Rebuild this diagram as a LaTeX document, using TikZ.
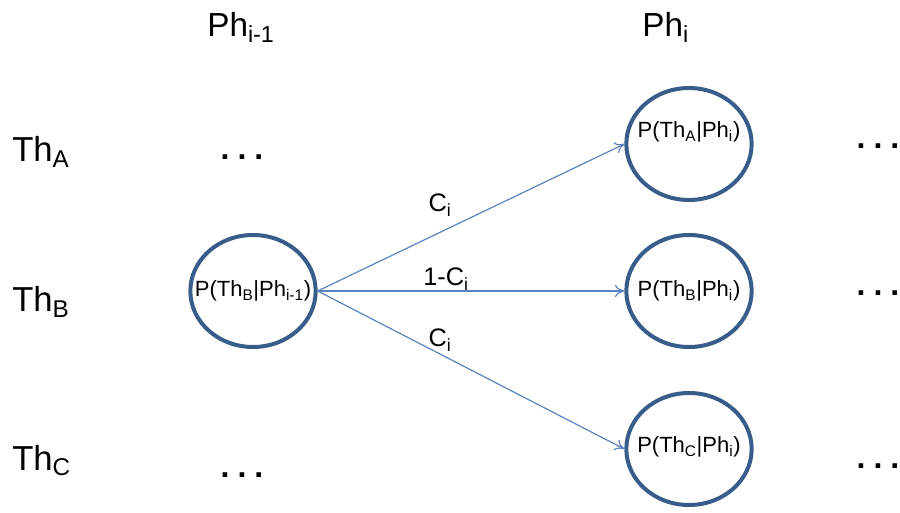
\documentclass[tikz,border=0pt]{standalone}
\usepackage{fontspec}
\setmainfont{Liberation Sans}
\usetikzlibrary{shapes.geometric,arrows.meta}
\definecolor{ringblue}{HTML}{385D8A}
\definecolor{linkblue}{HTML}{5B83BD}
\newcommand\threedots{.\hspace{6pt}.\hspace{6pt}.}
\begin{document}
\begin{tikzpicture}[x=0.75pt,y=-0.75pt,
  state/.style={ellipse,draw=ringblue,line width=3pt,minimum width=94pt,minimum height=84pt,inner sep=0pt},
  ptext/.style={font=\fontsize{16.5pt}{18pt}\selectfont,inner sep=0pt},
  header/.style={font=\fontsize{25pt}{28pt}\selectfont,inner sep=0pt,anchor=base west},
  rowlab/.style={font=\fontsize{26pt}{28pt}\selectfont,inner sep=0pt,anchor=base west},
  weight/.style={font=\fontsize{19pt}{21pt}\selectfont,inner sep=0pt},
  ellip/.style={font=\bfseries\fontsize{24pt}{26pt}\selectfont,inner sep=0pt},
  conn/.style={draw=linkblue,line width=0.9pt,-{To[length=7pt,width=9pt]}}]
\useasboundingbox (0,0) rectangle (900,513);

% column headers
\node[header] (h1) at (207,37) {Ph\textsubscript{i-1}};
\node[header] (h2) at (642,37) {Ph\textsubscript{i}};

% row labels
\node[rowlab] (tA) at (12,162) {Th\textsubscript{A}};
\node[rowlab] (tB) at (12,312) {Th\textsubscript{B}};
\node[rowlab] (tC) at (12,470) {Th\textsubscript{C}};

% states
\node[state] (L) at (253,291) {};
\node[ptext] (Lt) at (253,291) {P(Th\textsubscript{B}|Ph\textsubscript{i-1})};
\node[state] (A) at (689,144) {};
\node[ptext] (At) at (689,132) {P(Th\textsubscript{A}|Ph\textsubscript{i})};
\node[state] (B) at (689,291) {};
\node[ptext] (Bt) at (689,291) {P(Th\textsubscript{B}|Ph\textsubscript{i})};
\node[state] (C) at (689,449) {};
\node[ptext] (Ct) at (689,447) {P(Th\textsubscript{C}|Ph\textsubscript{i})};

% continuation marks
\node[ellip] (dLA) at (242,157) {\threedots};
\node[ellip] (dLC) at (242,475) {\threedots};
\node[ellip] (dRA) at (878,146) {\threedots};
\node[ellip] (dRB) at (878,293) {\threedots};
\node[ellip] (dRC) at (878,466) {\threedots};

% transitions
\draw[conn] (L.east) -- (A.west);
\draw[conn] (L.east) -- (B.west);
\draw[conn] (L.east) -- (C.west);

% transition weights
\node[weight] (w1) at (440,205) {C\textsubscript{i}};
\node[weight] (w2) at (446,279) {1-C\textsubscript{i}};
\node[weight] (w3) at (440,340) {C\textsubscript{i}};
\end{tikzpicture}
\end{document}
